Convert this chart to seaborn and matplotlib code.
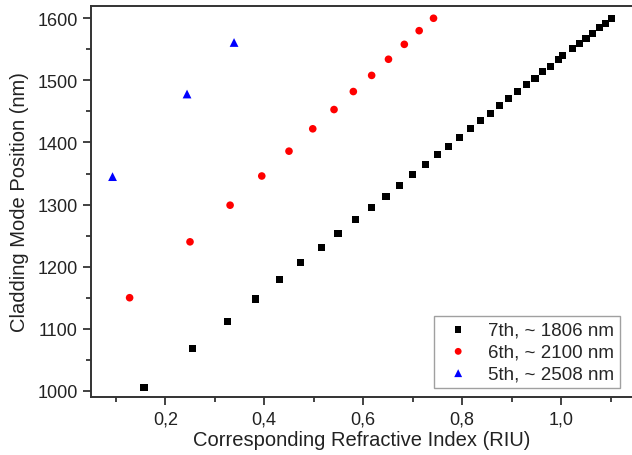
import numpy as np
import matplotlib
matplotlib.use("Agg")
import matplotlib.pyplot as plt
from matplotlib.ticker import MultipleLocator, FuncFormatter
import pandas as pd
import seaborn as sns

# values
ri_7th = [0.157, 0.255, 0.325, 0.382, 0.431, 0.474, 0.515, 0.549, 0.584, 0.616,
          0.646, 0.673, 0.700, 0.726, 0.750, 0.773, 0.795, 0.817, 0.837, 0.857,
          0.876, 0.894, 0.912, 0.930, 0.947, 0.963, 0.979, 0.994, 1.002, 1.023,
          1.037, 1.050, 1.064, 1.077, 1.089, 1.102]
wl_7th = [1006, 1068, 1111, 1148, 1179, 1207, 1231, 1254, 1276, 1295,
          1313, 1331, 1349, 1364, 1380, 1394, 1408, 1422, 1435, 1447,
          1459, 1471, 1482, 1493, 1503, 1514, 1523, 1533, 1540, 1551,
          1560, 1568, 1576, 1585, 1592, 1600]
ri_6th = [0.128, 0.250, 0.331, 0.395, 0.450, 0.498, 0.541, 0.580, 0.617, 0.651,
          0.683, 0.713, 0.742]
wl_6th = [1150, 1240, 1299, 1346, 1386, 1422, 1453, 1482, 1508, 1534,
          1558, 1580, 1600]
ri_5th = [0.0935, 0.244, 0.339]
wl_5th = [1345, 1478, 1561]

labels = ["7th, ~ 1806 nm", "6th, ~ 2100 nm", "5th, ~ 2508 nm"]
colors = ["black", "red", "blue"]
marks = ["s", "o", "^"]
sizes = [26, 30, 40]

sns.set_style("ticks")
plt.rcParams['font.family'] = ['Liberation Sans', 'DejaVu Sans']

fig = plt.figure(figsize=(6.32, 4.56), dpi=100)
ax = fig.add_axes([0.144, 0.127, 0.856, 0.858])

for ri, wl, lab, c, m, s in zip([ri_7th, ri_6th, ri_5th], [wl_7th, wl_6th, wl_5th],
                                labels, colors, marks, sizes):
    df = pd.DataFrame({'ri': ri, 'wl': wl})
    sns.scatterplot(data=df, x='ri', y='wl', color=c, marker=m, s=s,
                    edgecolor='none', label=lab, ax=ax)

ax.set_xlim(0.05, 1.143)
ax.set_ylim(990, 1620)
ax.xaxis.set_major_locator(MultipleLocator(0.2))
ax.xaxis.set_minor_locator(MultipleLocator(0.1))
ax.yaxis.set_major_locator(MultipleLocator(100))
ax.yaxis.set_minor_locator(MultipleLocator(50))
ax.xaxis.set_major_formatter(FuncFormatter(lambda v, p: ('%.1f' % v).replace('.', ',')))
ax.tick_params(which='major', direction='out', length=6, width=1.2,
               labelsize=13, color='#222222', labelcolor='#222222')
ax.tick_params(which='minor', direction='out', length=3.5, width=1.2, color='#222222')

for side in ['left', 'bottom', 'top']:
    ax.spines[side].set_linewidth(1.4)
    ax.spines[side].set_color('#333333')
ax.spines['right'].set_visible(False)

ax.set_xlabel('Corresponding Refractive Index (RIU)', fontsize=14.5, color='#222222', labelpad=2)
ax.set_ylabel('Cladding Mode Position (nm)', fontsize=14.5, color='#222222', labelpad=6)

leg = ax.legend(loc='lower right', bbox_to_anchor=(0.995, 0.0), fontsize=13.5,
                frameon=True, fancybox=False, edgecolor='#888888',
                handletextpad=0.6, borderpad=0.3, labelspacing=0.25,
                handlelength=2.0, markerscale=0.9)
leg.get_frame().set_linewidth(1.0)

plt.savefig('out.png', dpi=100)
